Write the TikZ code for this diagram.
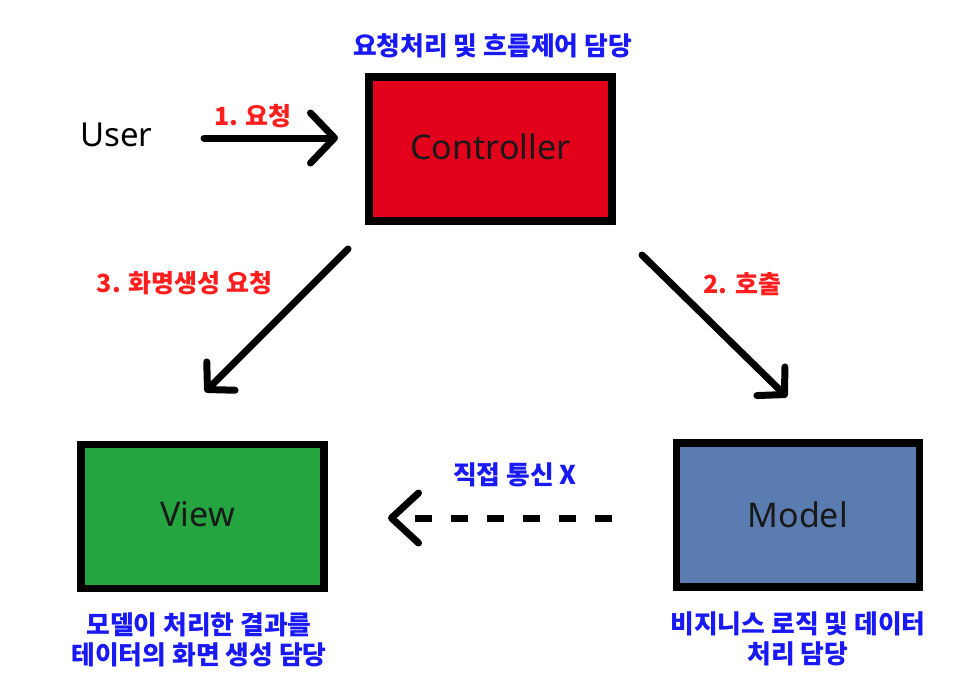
\documentclass[tikz,border=0pt]{standalone}
\usepackage{fontspec}
\newfontfamily\kr{Noto Sans CJK KR}
\newfontfamily\lat{Noto Sans}
\usetikzlibrary{arrows.meta}
\definecolor{ctrlred}{RGB}{226,0,26}
\definecolor{viewgreen}{RGB}{36,165,63}
\definecolor{modelblue}{RGB}{91,124,176}
\definecolor{lblred}{RGB}{255,30,30}
\definecolor{lblblue}{RGB}{25,25,245}
\begin{document}
\begin{tikzpicture}[x=1pt,y=-1pt,
  box/.style={draw=black, line width=7.5pt, minimum width=243pt, minimum height=144pt, inner sep=0pt,
              font=\lat\fontsize{34}{40}\selectfont, text=black!90},
  redlbl/.style={inner sep=0pt, text=lblred, font=\kr\bfseries\fontsize{25}{30}\selectfont},
  bluelbl/.style={inner sep=0pt, text=lblblue, align=center, font=\kr\bfseries\fontsize{25.8}{30}\selectfont},
  arr/.style={line width=7pt, line cap=round, draw=black},
  hhead/.style={-{Straight Barb[length=24pt,width=50pt,line cap=round,line join=round]}},
  dhead/.style={-{Straight Barb[length=19pt,width=40pt,line cap=round,line join=round]}}
]
\useasboundingbox[fill=white] (0,0) rectangle (980,694);

% boxes
\node[box, fill=ctrlred] (ctrl) at (490.5,149) {\raisebox{4pt}{Controller}};
\node[box, fill=viewgreen] (view) at (202.5,516.5) {\raisebox{5pt}{View}\kern10pt\relax};
\node[box, fill=modelblue] (model) at (797.75,515) {\raisebox{-2pt}{Model}};

% user
\node[inner sep=0pt, font=\lat\fontsize{33}{40}\selectfont, text=black] (user) at (116.5,134.7) {User};

% captions
\node[bluelbl] (ctrlcap) at (492.5,45.5) {요청처리 및 흐름제어 담당};
\node[bluelbl] (viewcap) at (199,640) {모델이 처리한 결과를\\테이터의 화면 생성 담당};
\node[bluelbl] (modelcap) at (798,639) {비지니스 로직 및 데이터\\처리 담당};

% arrow labels
\node[redlbl] (l1) at (253,116) {1. 요청};
\node[redlbl] (l2) at (742.5,284) {2. 호출};
\node[redlbl] (l3) at (184.5,283.5) {3. 화명생성 요청};
\node[bluelbl] (l4) at (515,475) {직접 통신 X};

% arrow end points
\coordinate (a1s) at (204,138);
\coordinate (a1e) at (338,138);
\coordinate (a2s) at (642,255);
\coordinate (a2e) at (787,397);
\coordinate (a3s) at (348,249);
\coordinate (a3e) at (205,392);
\coordinate (a4s) at (612,518);
\coordinate (a4e) at (388,518);

\draw[arr, hhead] (a1s) -- (a1e);
\draw[arr, dhead] (a2s) -- (a2e);
\draw[arr, dhead] (a3s) -- (a3e);
\draw[arr, line cap=butt, dash pattern=on 17pt off 19pt, -{Straight Barb[length=27pt,width=50pt,line cap=round,line join=round]}] (a4s) -- (a4e);
\end{tikzpicture}
\end{document}
